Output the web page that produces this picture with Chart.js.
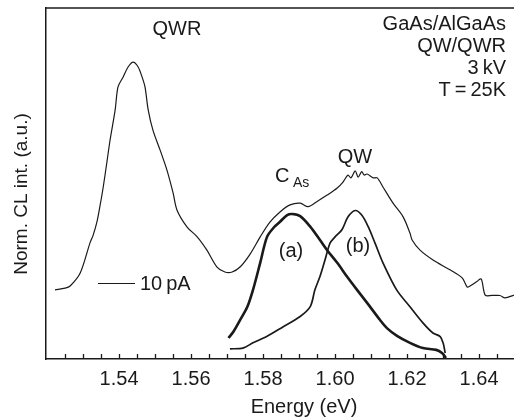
<!DOCTYPE html>
<html>
<head>
<meta charset="utf-8">
<script src="https://cdn.jsdelivr.net/npm/chart.js@4.4.1/dist/chart.umd.min.js"></script>
<style>
  html, body { margin: 0; padding: 0; background: #fff; }
  canvas { display: block; }
</style>
</head>
<body>
<canvas id="clChart" width="514" height="419"></canvas>
<script>
// full CL spectrum (QWR + QW), energy in eV, intensity normalised
const spectrumE = [1.5222, 1.5250, 1.5264, 1.5292, 1.5319, 1.5328, 1.5339, 1.5347, 1.5356, 1.5367,
  1.5375, 1.5389, 1.5397, 1.5411, 1.5425, 1.5439, 1.5453, 1.5464, 1.5472, 1.5481,
  1.5494, 1.5514, 1.5533, 1.5550, 1.5561, 1.5589, 1.5617, 1.5644, 1.5672, 1.5694,
  1.5714, 1.5736, 1.5764, 1.5792, 1.5819, 1.5847, 1.5875, 1.5903, 1.5925, 1.5950,
  1.5978, 1.6006, 1.6022, 1.6036, 1.6044, 1.6056, 1.6064, 1.6074, 1.6081, 1.6089,
  1.6106, 1.6117, 1.6133, 1.6161, 1.6189, 1.6208, 1.6214, 1.6236, 1.6272, 1.6319,
  1.6353, 1.6367, 1.6375, 1.6394, 1.6406, 1.6417, 1.6436, 1.6458, 1.6472, 1.6497];
const spectrumI = [19.7, 20.2, 20.8, 24.5, 33.0, 35.3, 39.3, 43.6, 49.0, 56.7,
  62.4, 70.9, 77.5, 80.3, 83.2, 84.6, 83.2, 80.3, 77.5, 70.9,
  65.2, 59.5, 53.8, 47.3, 42.4, 37.6, 34.8, 31.0, 26.2, 24.8,
  24.8, 26.2, 29.9, 34.8, 39.0, 41.9, 43.9, 44.4, 43.4, 44.9,
  46.7, 48.7, 50.4, 52.4, 51.6, 53.6, 51.8, 53.4, 52.4, 52.7,
  51.6, 51.6, 49.0, 44.4, 40.5, 35.9, 33.9, 31.0, 28.2, 25.4,
  23.1, 20.5, 20.8, 22.1, 22.8, 18.2, 18.1, 18.1, 17.4, 18.2];

// curve (a), thick line
const curveAE = [1.5704, 1.5717, 1.5736, 1.5756, 1.5772, 1.5792, 1.5811, 1.5831, 1.5847, 1.5867,
  1.5881, 1.5903, 1.5931, 1.5958, 1.5978, 1.6006, 1.6033, 1.6061, 1.6089, 1.6125,
  1.6144, 1.6172, 1.6208, 1.6244, 1.6281, 1.6297, 1.6308];
const curveAI = [6.0, 7.7, 11.1, 14.8, 19.7, 27.4, 34.8, 37.6, 39.1, 41.0,
  41.3, 40.7, 37.7, 33.9, 31.0, 27.4, 23.5, 19.7, 16.0, 11.1,
  8.8, 6.6, 4.6, 3.1, 2.6, 1.7, 0.3];

// curve (b), thin line
const curveBE = [1.5708, 1.5744, 1.5772, 1.5810, 1.5856, 1.5903, 1.5931, 1.5944, 1.5958, 1.5972,
  1.5986, 1.6000, 1.6019, 1.6036, 1.6056, 1.6074, 1.6092, 1.6111, 1.6133, 1.6171,
  1.6208, 1.6244, 1.6272, 1.6292, 1.6300, 1.6306];
const curveBI = [2.9, 3.1, 4.6, 6.4, 9.2, 12.1, 14.9, 19.7, 23.5, 28.2,
  33.0, 34.8, 36.8, 40.5, 42.3, 41.0, 37.7, 33.0, 27.4, 19.7,
  14.9, 10.3, 7.4, 6.4, 4.6, 1.7];

// x axis: minor ticks every 0.005 eV, labels every 0.02 eV
const tickLabels = ['1.54', '1.56', '1.58', '1.60', '1.62', '1.64'];
const tickStart = 1.525, tickEnd = 1.645, tickStep = 0.005;

const FONT = "'Liberation Sans', Arial, Helvetica, sans-serif";
const INK = '#1a1a1a';

function toPoints(xs, ys) {
  return xs.map((x, i) => ({ x: x, y: ys[i] }));
}

const minorTicks = [];
for (let v = tickStart; v <= tickEnd + 1e-9; v += tickStep) {
  minorTicks.push(Math.round(v * 1000) / 1000);
}

// inner tick marks, top frame line and all the annotations
const decorPlugin = {
  id: 'decor',
  afterDraw(chart) {
    const ctx = chart.ctx;
    const area = chart.chartArea;
    const xs = chart.scales.x;
    ctx.save();
    ctx.strokeStyle = INK;
    ctx.lineWidth = 1.3;
    ctx.beginPath();
    minorTicks.forEach(v => {
      const px = Math.round(xs.getPixelForValue(v)) + 0.5;
      ctx.moveTo(px, area.bottom);
      ctx.lineTo(px, area.bottom - 5);
    });
    ctx.stroke();

    ctx.lineWidth = 1.5;
    ctx.beginPath();
    ctx.moveTo(area.left, area.top);
    ctx.lineTo(chart.width, area.top);
    ctx.stroke();

    ctx.fillStyle = INK;
    ctx.font = '20px ' + FONT;
    ctx.textBaseline = 'middle';

    ctx.textAlign = 'center';
    ctx.fillText('QWR', 177, 29);
    ctx.fillText('QW', 355, 157);
    ctx.fillText('(a)', 291, 251);
    ctx.fillText('(b)', 358, 246);

    ctx.textAlign = 'right';
    ctx.fillText('GaAs/AlGaAs', 506, 24);
    ctx.fillText('QW/QWR', 506, 46);
    ctx.fillText('3\u2009kV', 506, 68);
    ctx.fillText('T\u2009=\u200925K', 506, 90);

    ctx.textAlign = 'left';
    ctx.fillText('C', 275, 176);
    ctx.font = '14px ' + FONT;
    ctx.fillText('As', 293, 183);

    // scale bar for the 10 pA label
    ctx.font = '20px ' + FONT;
    ctx.lineWidth = 1.2;
    ctx.beginPath();
    ctx.moveTo(98, 283.5);
    ctx.lineTo(135, 283.5);
    ctx.stroke();
    ctx.fillText('10\u2009pA', 140, 284);

    // axis titles
    ctx.textAlign = 'center';
    ctx.fillText('Energy (eV)', 304, 407);
    ctx.font = '19px ' + FONT;
    ctx.translate(22, 194);
    ctx.rotate(-Math.PI / 2);
    ctx.fillText('Norm. CL int. (a.u.)', 0, 0);
    ctx.restore();
  }
};

const lineStyle = { fill: false, pointRadius: 0, tension: 0.3, borderColor: INK };

new Chart(document.getElementById('clChart'), {
  type: 'line',
  data: {
    datasets: [
      Object.assign({ label: 'spectrum', data: toPoints(spectrumE, spectrumI), borderWidth: 1.2 }, lineStyle),
      Object.assign({ label: '(a)', data: toPoints(curveAE, curveAI), borderWidth: 2.6 }, lineStyle),
      Object.assign({ label: '(b)', data: toPoints(curveBE, curveBI), borderWidth: 1.7 }, lineStyle)
    ]
  },
  options: {
    responsive: false,
    animation: false,
    layout: { padding: { top: 8, left: 0, right: 0, bottom: 0 } },
    plugins: { legend: { display: false }, tooltip: { enabled: false } },
    scales: {
      x: {
        type: 'linear',
        min: 1.5197,
        max: 1.6497,
        afterBuildTicks: scale => { scale.ticks = minorTicks.map(v => ({ value: v })); },
        afterFit: scale => { scale.height = 60; },
        grid: { display: false, drawTicks: false },
        border: { display: true, color: INK, width: 1.5 },
        ticks: {
          autoSkip: false,
          maxRotation: 0,
          padding: 8,
          color: INK,
          font: { family: FONT, size: 20 },
          callback: v => {
            const s = v.toFixed(2);
            return (Math.abs(v - Number(s)) < 1e-6 && tickLabels.includes(s)) ? s : '';
          }
        }
      },
      y: {
        min: 0,
        max: 100,
        afterFit: scale => { scale.width = 46; },
        grid: { display: false, drawTicks: false },
        border: { display: true, color: INK, width: 1.5 },
        ticks: { display: false }
      }
    }
  },
  plugins: [decorPlugin]
});
</script>
</body>
</html>
